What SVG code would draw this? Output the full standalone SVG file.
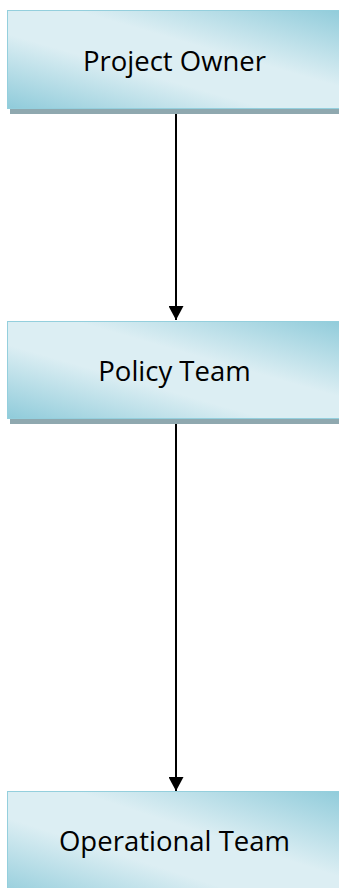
<svg xmlns="http://www.w3.org/2000/svg" width="339" height="888" viewBox="0 0 339 888">
<style>
.box{fill:url(#g);stroke:#94CFDD;stroke-width:1}
.shadow{fill:#8FA8AF}
.label{font-family:"Open Sans","Noto Sans",sans-serif;font-size:27.5px;fill:#000;text-anchor:middle}
.conn{stroke:#000;stroke-width:2;fill:none}
</style>
<defs>
<linearGradient id="g" x1="0" y1="1" x2="1" y2="0">
<stop offset="0" stop-color="#8FCBDA"/>
<stop offset="0.38" stop-color="#DCEEF3"/>
<stop offset="0.6" stop-color="#DCEEF3"/>
<stop offset="1" stop-color="#8FCBDA"/>
</linearGradient>
<marker id="arr" markerWidth="16" markerHeight="15" refX="15" refY="8" orient="auto" markerUnits="userSpaceOnUse" viewBox="0 0 15 16">
<path d="M0,0 L15,8 L0,16 Z" fill="#000"/>
</marker>
</defs>
<g id="connectors">
<line class="conn" x1="176" y1="109" x2="176" y2="320" marker-end="url(#arr)"/>
<line class="conn" x1="176" y1="419" x2="176" y2="791" marker-end="url(#arr)"/>
</g>
<g id="project-owner">
<rect class="shadow" x="10" y="13" width="340" height="101"/>
<rect class="box" x="7.5" y="10.5" width="340" height="98"/>
<text class="label" x="174.5" y="71">Project Owner</text>
</g>
<g id="policy-team">
<rect class="shadow" x="10" y="324" width="340" height="100"/>
<rect class="box" x="7.5" y="321.5" width="340" height="97"/>
<text class="label" x="174.5" y="381">Policy Team</text>
</g>
<g id="operational-team">
<rect class="shadow" x="10" y="794" width="340" height="100"/>
<rect class="box" x="7.5" y="791.5" width="340" height="110"/>
<text class="label" x="174.5" y="851">Operational Team</text>
</g>
</svg>
